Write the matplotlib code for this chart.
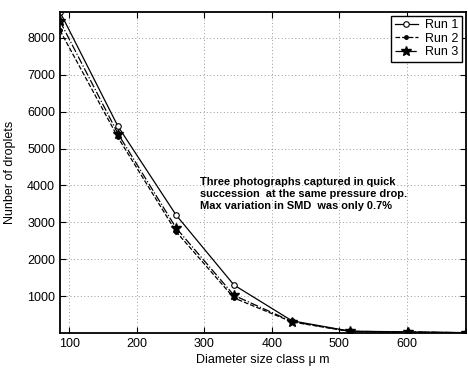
import numpy as np
import matplotlib
matplotlib.use("Agg")
import matplotlib.pyplot as plt

plt.rcParams['font.family'] = ['Liberation Sans', 'DejaVu Sans']

# diameter size classes (micron)
diameter = [86, 172, 258, 344, 430, 516, 602, 688]
run1 = [8700, 5600, 3200, 1300, 330, 50, 30, 10]
run2 = [8200, 5300, 2750, 950, 300, 40, 25, 5]
run3 = [8450, 5400, 2850, 1020, 310, 45, 28, 8]
yticks = [1000, 2000, 3000, 4000, 5000, 6000, 7000, 8000]
xticks = [100, 200, 300, 400, 500, 600]

fig = plt.figure(figsize=(4.68, 3.69), dpi=100)
ax = fig.add_axes([60/468, 36/369, 406/468, 321/369])

ax.plot(diameter, run1, '-', color='black', lw=0.9, marker='o', ms=4,
        mfc='white', mec='black', mew=0.8, label='Run 1')
ax.plot(diameter, run2, '--', color='black', lw=0.9, marker='.', ms=5,
        label='Run 2')
ax.plot(diameter, run3, '-.', color='black', lw=0.9, marker='*', ms=7,
        label='Run 3')

ax.set_xlim(86, 688)
ax.set_ylim(0, 8700)
ax.set_xticks(xticks)
ax.set_yticks(yticks)
ax.tick_params(direction='in', top=True, right=True, labelsize=9, length=4)
ax.grid(True, linestyle=(0, (1, 2.5)), color='#999999', lw=0.7)
for s in ax.spines.values():
    s.set_linewidth(1.3)

ax.set_xlabel('Diameter size class \u03bc m', fontsize=9, labelpad=3)
ax.set_ylabel('Nunber of droplets', fontsize=9, labelpad=8)

ax.text(0.345, 0.485,
        'Three photographs captured in quick\n'
        'succession  at the same pressure drop.\n'
        'Max variation in SMD  was only 0.7%',
        transform=ax.transAxes, fontsize=7.9, fontweight='bold',
        va='top', linespacing=1.25)

leg = ax.legend(loc='upper right', fontsize=9, handlelength=1.8,
                borderaxespad=0.3, fancybox=False, framealpha=1,
                handletextpad=0.6, labelspacing=0.1, borderpad=0.3)
leg.get_frame().set_edgecolor('black')
leg.get_frame().set_linewidth(1.0)

fig.savefig('out.png', dpi=100)
